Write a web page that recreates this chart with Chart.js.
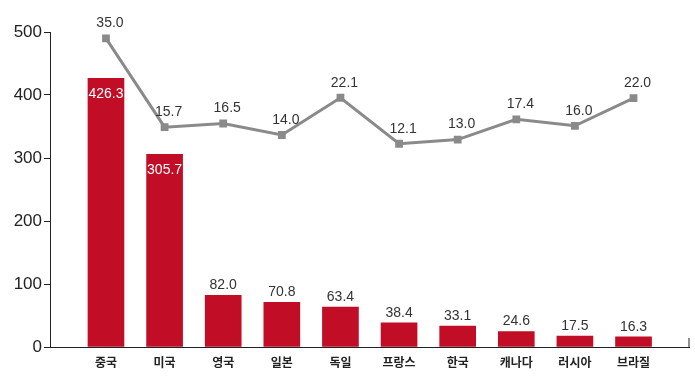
<!DOCTYPE html>
<html><head><meta charset="utf-8">
<script src="https://cdn.jsdelivr.net/npm/chart.js@4/dist/chart.umd.min.js"></script>
<style>html,body{margin:0;padding:0;background:#fff}canvas{display:block}</style>
</head><body>
<canvas id="c" width="695" height="382"></canvas>
<script>
const categories = ['중국','미국','영국','일본','독일','프랑스','한국','캐나다','러시아','브라질'];
const barValues = [426.3, 305.7, 82.0, 70.8, 63.4, 38.4, 33.1, 24.6, 17.5, 16.3];
const lineValues = [35.0, 15.7, 16.5, 14.0, 22.1, 12.1, 13.0, 17.4, 16.0, 22.0];
const yTicks = [0, 100, 200, 300, 400, 500];

const numFont = '14px "Liberation Sans", Arial, sans-serif';

const labelPlugin = {
  id: 'valueLabels',
  afterDatasetsDraw(chart) {
    const ctx = chart.ctx;
    ctx.save();
    ctx.font = numFont;
    ctx.textAlign = 'center';
    ctx.textBaseline = 'middle';
    const barMeta = chart.getDatasetMeta(0);
    barMeta.data.forEach((el, i) => {
      const v = barValues[i];
      if (v > 200) {
        ctx.fillStyle = '#ffffff';
        ctx.fillText(v.toFixed(1), el.x, el.y + 16);
      } else {
        ctx.fillStyle = '#333333';
        ctx.fillText(v.toFixed(1), el.x, el.y - 10);
      }
    });
    const lineMeta = chart.getDatasetMeta(1);
    lineMeta.data.forEach((el, i) => {
      ctx.fillStyle = '#333333';
      ctx.fillText(lineValues[i].toFixed(1), el.x + 4, el.y - 15);
    });
    const a = chart.chartArea;
    ctx.strokeStyle = '#222';
    ctx.lineWidth = 1;
    ctx.beginPath();
    ctx.moveTo(a.right - 0.5, a.bottom - 9);
    ctx.lineTo(a.right - 0.5, a.bottom);
    ctx.stroke();
    ctx.restore();
  }
};

new Chart(document.getElementById('c'), {
  type: 'bar',
  data: {
    datasets: [
      {
        type: 'bar',
        data: barValues.map((v, i) => ({x: i, y: v})),
        backgroundColor: '#c10d25',
        barThickness: 36,
        yAxisID: 'y',
        order: 1
      },
      {
        type: 'line',
        data: lineValues.map((v, i) => ({x: i, y: v})),
        borderColor: '#8a8a8a',
        backgroundColor: '#8a8a8a',
        borderWidth: 3,
        pointStyle: 'rect',
        pointRadius: 5.5,
        pointHoverRadius: 5.5,
        pointBorderWidth: 0,
        yAxisID: 'y2',
        order: 0
      }
    ]
  },
  options: {
    responsive: false,
    animation: false,
    devicePixelRatio: 1,
    layout: { padding: { left: 0, right: 5, top: 32, bottom: 0 } },
    plugins: { legend: { display: false }, tooltip: { enabled: false } },
    scales: {
      x: {
        type: 'linear',
        offset: false,
        min: -0.955,
        max: 9.955,
        afterBuildTicks: (s) => { s.ticks = categories.map((_, i) => ({value: i})); },
        afterFit: (s) => { s.height = 35; },
        grid: { display: false, drawTicks: false, offset: false },
        border: { display: true, color: '#222', width: 1 },
        ticks: {
          autoSkip: false, maxRotation: 0, padding: 8,
          color: '#222',
          font: { family: '"Noto Sans CJK KR", sans-serif', size: 12, weight: 'bold' },
          callback: (v) => categories[v]
        }
      },
      y: {
        position: 'left',
        min: 0, max: 500,
        afterBuildTicks: (s) => { s.ticks = yTicks.map(v => ({value: v})); },
        afterFit: (s) => { s.width = 50; },
        grid: { display: true, drawOnChartArea: false, drawTicks: true, tickLength: 6, color: '#222', lineWidth: 1 },
        border: { display: true, color: '#222', width: 1 },
        ticks: {
          padding: 2, color: '#222',
          font: { family: '"Liberation Sans", Arial, sans-serif', size: 17 }
        }
      },
      y2: {
        display: false,
        min: -32.1, max: 36.4
      }
    }
  },
  plugins: [labelPlugin]
});
</script>
</body></html>
